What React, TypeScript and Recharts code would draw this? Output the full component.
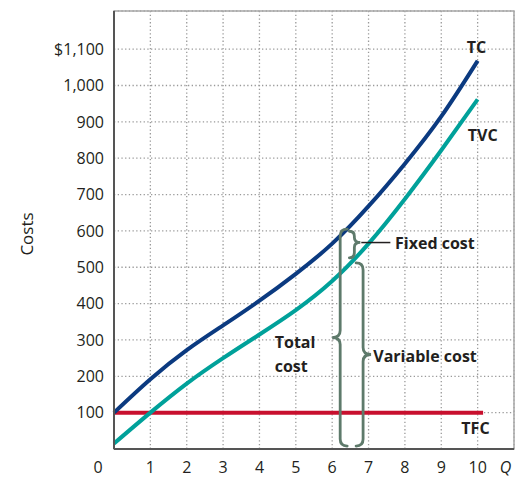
import React from "react";
import {
  LineChart,
  Line,
  XAxis,
  YAxis,
  CartesianGrid,
  ReferenceArea,
  ReferenceLine,
  ReferenceDot,
} from "recharts";

const quantities = [0, 1, 2, 3, 4, 5, 6, 7, 8, 9, 10];
const totalCost = [100, 192, 272, 340, 408, 482, 565, 668, 785, 915, 1068];
const variableCost = [15, 100, 180, 250, 315, 382, 462, 565, 688, 822, 962];
const fixedCostLevel = 100;
const fixedCostEnd = 10.15;
const xTicks = [0, 1, 2, 3, 4, 5, 6, 7, 8, 9, 10];
const yTicks = [100, 200, 300, 400, 500, 600, 700, 800, 900, 1000, 1100];

const data = quantities.map((q, i) => ({ q, tc: totalCost[i], tvc: variableCost[i] }));
const tfcData = [
  { q: 0, tfc: fixedCostLevel },
  { q: fixedCostEnd, tfc: fixedCostLevel },
];

const FONT = "'Open Sans', sans-serif";
const INK = "#231f20";
const BRACE = "#5e7a6b";

const fmtY = (v: number) => (v === 1100 ? "$1,100" : v.toLocaleString("en-US"));

const XTick = (props: any) => {
  const { x, y, payload } = props;
  const v = payload.value;
  return (
    <g>
      <text x={v === 0 ? x - 16 : x} y={y} dy="0.71em" textAnchor="middle" fontSize={16} fill={INK} fontFamily={FONT}>
        {v}
      </text>
      {v === 10 && (
        <text x={x + 28} y={y} dy="0.71em" textAnchor="middle" fontSize={16} fontStyle="italic" fill={INK} fontFamily={FONT}>
          Q
        </text>
      )}
    </g>
  );
};

// curly brace drawn along a vertical segment; dir 1 points right "}", -1 points left "{"
const makeBrace = (dir: number, tipFrac: number, r: number, d: number) => (props: any) => {
  const { x1, y1, y2 } = props;
  const x = x1;
  const top = Math.min(y1, y2);
  const bot = Math.max(y1, y2);
  const tip = top + (bot - top) * tipFrac;
  const e = x - dir * r;
  const path = [
    `M ${e} ${top}`,
    `Q ${x} ${top} ${x} ${top + r}`,
    `L ${x} ${tip - r}`,
    `Q ${x} ${tip} ${x + dir * d} ${tip}`,
    `Q ${x} ${tip} ${x} ${tip + r}`,
    `L ${x} ${bot - r}`,
    `Q ${x} ${bot} ${e} ${bot}`,
  ].join(" ");
  return <path d={path} fill="none" stroke={BRACE} strokeWidth={2.8} strokeLinecap="round" />;
};

const labelStyle = { fontSize: 16, fontWeight: 700, fill: INK, fontFamily: FONT };

export default function App() {
  return (
    <div style={{ position: "absolute", left: 0, top: 0, width: 529, height: 491, background: "#fff" }}>
      <LineChart width={529} height={491} data={data} margin={{ top: 11, right: 15, left: 0, bottom: 0 }}>
        <CartesianGrid stroke="#9a9a9a" strokeWidth={1.3} strokeDasharray="1.3 2.4" />
        <ReferenceArea x1={0} x2={11} y1={0} y2={1205} fill="none" stroke="#a8a8a8" strokeWidth={1.5} />
        <XAxis
          dataKey="q"
          type="number"
          domain={[0, 11]}
          ticks={xTicks}
          height={42}
          tickLine={false}
          tickMargin={7}
          axisLine={{ stroke: "#555", strokeWidth: 2 }}
          tick={<XTick />}
          interval={0}
        />
        <YAxis
          type="number"
          domain={[0, 1205]}
          ticks={yTicks}
          width={114}
          tickLine={false}
          tickMargin={4}
          tickFormatter={fmtY}
          axisLine={{ stroke: "#555", strokeWidth: 2 }}
          tick={{ fontSize: 16, fill: INK, fontFamily: FONT }}
          interval={0}
          label={{
            content: (p: any) => {
              const vb = p.viewBox;
              const cx = 26;
              const cy = vb.y + vb.height / 2 + 4;
              return (
                <text x={cx} y={cy} transform={`rotate(-90 ${cx} ${cy})`} textAnchor="middle" dominantBaseline="central" fontSize={17} fill={INK} fontFamily={FONT}>
                  Costs
                </text>
              );
            },
          }}
        />
        <Line data={tfcData} dataKey="tfc" type="linear" stroke="#c8102e" strokeWidth={4} dot={false} isAnimationActive={false} />
        <Line dataKey="tvc" type="natural" stroke="#00a19a" strokeWidth={4} dot={false} isAnimationActive={false} />
        <Line dataKey="tc" type="natural" stroke="#0b3a80" strokeWidth={4} dot={false} isAnimationActive={false} />

        <ReferenceLine segment={[{ x: 6.22, y: 8 }, { x: 6.22, y: 605 }]} shape={makeBrace(-1, 0.5, 7, 8)} ifOverflow="visible" />
        <ReferenceLine segment={[{ x: 6.85, y: 8 }, { x: 6.85, y: 512 }]} shape={makeBrace(1, 0.5, 7, 8)} ifOverflow="visible" />
        <ReferenceLine segment={[{ x: 6.61, y: 526 }, { x: 6.61, y: 599 }]} shape={makeBrace(1, 0.42, 5, 6)} ifOverflow="visible" />
        <ReferenceLine segment={[{ x: 6.8, y: 568 }, { x: 7.6, y: 568 }]} stroke={INK} strokeWidth={1.5} ifOverflow="visible" />

        <ReferenceDot x={9.97} y={1104} r={0} fill="none" stroke="none" label={{ value: "TC", position: "center", ...labelStyle }} />
        <ReferenceDot x={10.14} y={863} r={0} fill="none" stroke="none" label={{ value: "TVC", position: "center", ...labelStyle }} />
        <ReferenceDot x={9.94} y={57} r={0} fill="none" stroke="none" label={{ value: "TFC", position: "center", ...labelStyle }} />
        <ReferenceDot x={7.73} y={566} r={0} fill="none" stroke="none" label={{ value: "Fixed cost", position: "right", offset: 0, ...labelStyle }} />
        <ReferenceDot x={7.13} y={254} r={0} fill="none" stroke="none" label={{ value: "Variable cost", position: "right", offset: 0, ...labelStyle }} />
        <ReferenceDot x={4.42} y={293} r={0} fill="none" stroke="none" label={{ value: "Total", position: "right", offset: 0, ...labelStyle }} />
        <ReferenceDot x={4.42} y={227} r={0} fill="none" stroke="none" label={{ value: "cost", position: "right", offset: 0, ...labelStyle }} />
      </LineChart>
    </div>
  );
}
